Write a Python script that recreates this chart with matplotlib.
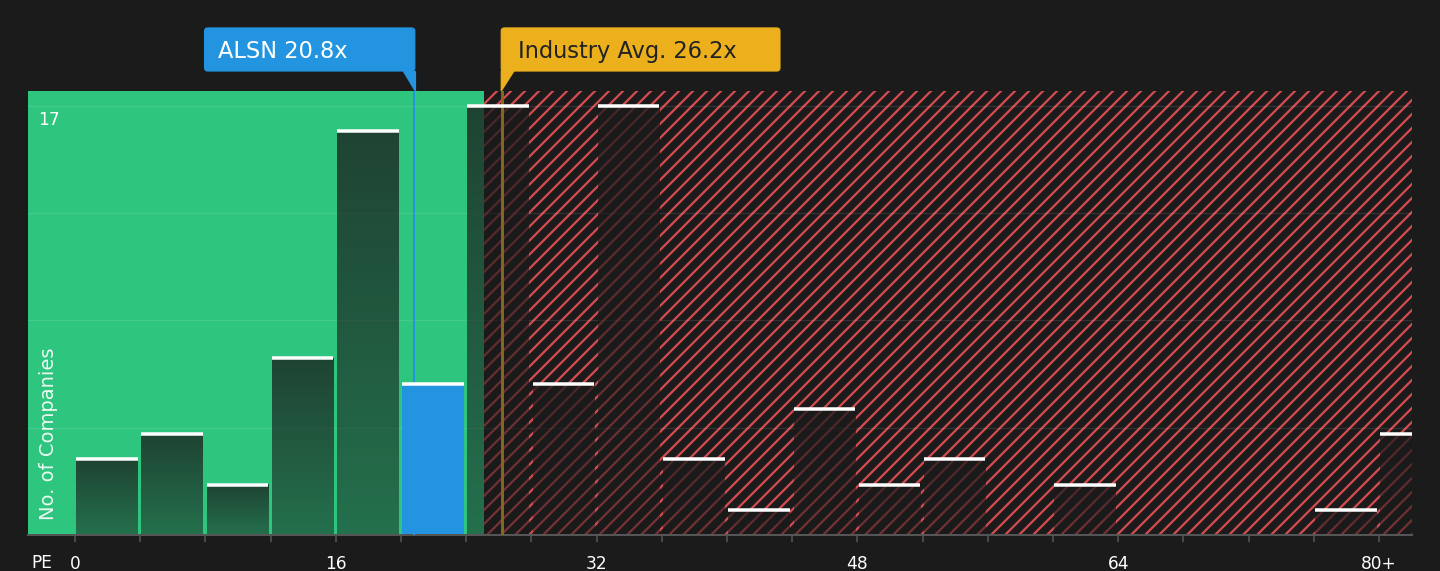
import numpy as np
import matplotlib
matplotlib.use("Agg")
import matplotlib.pyplot as plt
from matplotlib.patches import FancyBboxPatch, Polygon
from matplotlib.transforms import blended_transform_factory

# PE distribution (bins of 4, last bin is 80+)
bin_edges = np.arange(0, 84, 4)
counts = [3, 4, 2, 7, 16, 6, 17, 6, 17, 3, 1, 5, 2, 3, 0, 2, 0, 0, 0, 1, 4]
tick_labels = {0: "0", 16: "16", 32: "32", 48: "48", 64: "64", 80: "80+"}

company = "ALSN"
company_pe = 20.8
industry_pe = 26.2
fair_limit = 25.1

BG = "#1b1b1b"
GREEN = "#2ec57f"
RED = "#d24b50"
BLUE = "#2394df"
GOLD = "#ebb01c"

# dpi picked so the '//' hatch spacing matches (~7px)
DPI = 84
P = 72 / DPI  # px -> pt

plt.rcParams["hatch.linewidth"] = 2.3 * P

fig = plt.figure(figsize=(1440 / DPI, 571 / DPI), dpi=DPI, facecolor=BG)
ax = fig.add_axes([28 / 1440, 36 / 571, 1384 / 1440, 444 / 571])
ax.set_facecolor(BG)

xmin, xmax = -2.88, 82.02
ymax = 17.59

# background zones
ax.axvspan(xmin, fair_limit, color=GREEN, lw=0, zorder=0)
ax.axvspan(fair_limit, xmax, facecolor=BG, edgecolor=RED, hatch="//", lw=0, zorder=0)

# grid
top = max(counts)
for g in np.arange(1, 5) * top / 4:
    ax.axhline(g, color="white", alpha=0.1, lw=1.3 * P, zorder=1)

# bars with vertical shading
grad = np.zeros((64, 1, 4))
grad[..., :3] = 0.105
grad[:, 0, 3] = np.linspace(0.76, 0.5, 64)
alsn_bin = int(company_pe // 4)
for i, (e, c) in enumerate(zip(bin_edges, counts)):
    if c == 0:
        continue
    l, r = e + 0.08, e + 3.85
    if i == alsn_bin:
        ax.bar(l, c, width=r - l, align="edge", color=BLUE, lw=0, zorder=2)
    else:
        ax.imshow(grad, extent=[l, r, 0, c], aspect="auto",
                  interpolation="bilinear", zorder=2)
    ax.hlines(c, l, r, color="white", lw=3.5 * P, zorder=5)

# marker lines
ax.axvline(company_pe, color=BLUE, lw=2 * P, zorder=4)
ax.axvline(industry_pe, color="#86661f", lw=3 * P, zorder=4)

ax.set_xlim(xmin, xmax)
ax.set_ylim(0, ymax)

# axes styling
for s in ["top", "right", "left"]:
    ax.spines[s].set_visible(False)
ax.spines["bottom"].set_color("#555555")
ax.spines["bottom"].set_linewidth(2 * P)
ax.set_yticks([])
ax.set_xticks(bin_edges)
ax.set_xticklabels([tick_labels.get(int(e), "") for e in bin_edges])
ax.tick_params(axis="x", colors="#555555", length=7 * P, width=1.6 * P, pad=13 * P,
               labelcolor="white", labelsize=17 * P)

tr = blended_transform_factory(ax.transData, ax.transAxes)

ax.text(-2.27, top - 0.2, str(top), color="white", fontsize=17 * P, va="top", ha="left")
ax.text(-1.65, 0.6, "No. of Companies", color="white", fontsize=19.5 * P,
        rotation=90, ha="center", va="bottom", alpha=0.9)
ax.text(-2.02, -0.063, "PE", transform=tr, color="white", fontsize=17 * P,
        ha="center", va="center")

# callout boxes
y0, h = 1.045, 0.097

box = FancyBboxPatch((company_pe + 0.05 - 12.9, y0), 12.9, h,
                     boxstyle="round,pad=0,rounding_size=0.2", mutation_aspect=0.037,
                     transform=tr, color=BLUE, clip_on=False, zorder=6)
ax.add_patch(box)
ax.add_patch(Polygon([(company_pe - 0.65, y0 + 0.001), (company_pe + 0.05, y0 + 0.001),
                      (company_pe + 0.05, 1.0)], closed=True, transform=tr,
                     color=BLUE, clip_on=False, zorder=6))
ax.text(company_pe + 0.05 - 12.9 + 0.8, y0 + h / 2 - 0.004, f"{company} {company_pe}x",
        transform=tr, color="white", fontsize=22.5 * P, va="center", ha="left", zorder=7)

box = FancyBboxPatch((industry_pe - 0.05, y0), 17.1, h,
                     boxstyle="round,pad=0,rounding_size=0.2", mutation_aspect=0.037,
                     transform=tr, color=GOLD, clip_on=False, zorder=6)
ax.add_patch(box)
ax.add_patch(Polygon([(industry_pe - 0.05, y0 + 0.001), (industry_pe + 0.75, y0 + 0.001),
                      (industry_pe - 0.05, 1.0)], closed=True, transform=tr,
                     color=GOLD, clip_on=False, zorder=6))
ax.text(industry_pe - 0.05 + 1.0, y0 + h / 2 - 0.004, f"Industry Avg. {industry_pe}x",
        transform=tr, color="#222222", fontsize=22.5 * P, va="center", ha="left", zorder=7)

fig.savefig("out.png", dpi=DPI, facecolor=BG)
